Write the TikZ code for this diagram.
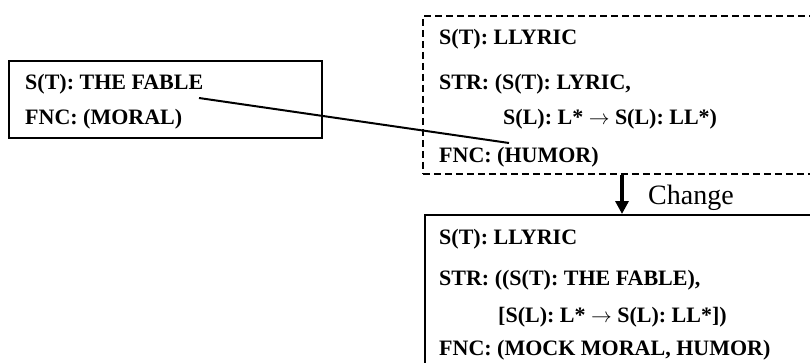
\documentclass[tikz,border=0pt]{standalone}
\usepackage{fontspec}
\setmainfont{Liberation Serif}
\usetikzlibrary{arrows.meta}
\begin{document}
\begin{tikzpicture}[x=1pt,y=1pt,
  txt/.style={anchor=base west, inner sep=0pt, font=\fontsize{22}{24}\selectfont\bfseries},
  frame/.style={draw, line width=1.6pt, inner sep=0pt, anchor=north west},
  dashframe/.style={frame, dash pattern=on 7pt off 4pt},
  link/.style={line width=2pt},
  bigarrow/.style={line width=3.2pt, -{Triangle[length=13pt,width=13pt]}}]
\useasboundingbox (0,0) rectangle (810,362);
% boxes
\node[frame, minimum width=313pt, minimum height=77pt] (fable) at (8,302) {};
\node[dashframe, minimum width=420pt, minimum height=158pt] (llyric) at (422,347) {};
\node[frame, minimum width=420pt, minimum height=170pt] (result) at (424,148) {};
% left box text
\node[txt] (f1) at (25,272) {S(T): THE FABLE};
\node[txt] (f2) at (25,237) {FNC: (MORAL)};
% dashed box text
\node[txt] (l1) at (439,317) {S(T): LLYRIC};
\node[txt] (l2) at (439,272) {STR: (S(T): LYRIC,};
\node[txt] (l3) at (503,237) {S(L): L* $\rightarrow$ S(L): LL*)};
\node[txt] (l4) at (439,200) {FNC: (HUMOR)};
% result box text
\node[txt] (r1) at (439,118) {S(T): LLYRIC};
\node[txt] (r2) at (439,77) {STR: ((S(T): THE FABLE),};
\node[txt] (r3) at (498,40) {[S(L): L* $\rightarrow$ S(L): LL*])};
\node[txt] (r4) at (439,7) {FNC: (MOCK MORAL, HUMOR)};
% connector
\coordinate (fableEnd) at (199,264);
\coordinate (humorPt) at (509,219);
\draw[link] (fableEnd) -- (humorPt);
% change arrow
\coordinate (ax) at (622,0);
\draw[bigarrow] (llyric.south -| ax) -- (result.north -| ax);
\node[anchor=base west, inner sep=0pt, font=\fontsize{28}{30}\selectfont] (chg) at (648,158) {Change};
\end{tikzpicture}
\end{document}
